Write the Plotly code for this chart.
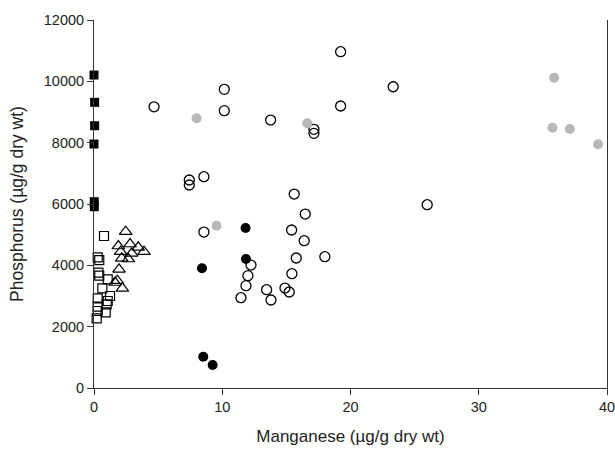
import plotly.graph_objects as go

# Filled black squares
sq_fill_x = [0.0, 0.05, 0.05, 0.0, 0.02, 0.02]
sq_fill_y = [10206, 9315, 8553, 7956, 6074, 5911]

# Open squares
sq_open_x = [0.78, 0.29, 0.41, 0.34, 0.41, 1.07, 0.65, 1.25, 0.29, 1.07, 0.99, 0.29, 0.91, 0.29, 0.21]
sq_open_y = [4956, 4261, 4173, 3760, 3662, 3545, 3250, 3000, 2925, 2837, 2729, 2651, 2468, 2511, 2273]

# Open triangles
tri_x = [2.47, 1.90, 2.81, 3.45, 3.90, 2.08, 2.94, 2.16, 2.68, 1.95, 1.82, 1.64, 2.21]
tri_y = [5096, 4630, 4695, 4588, 4444, 4444, 4392, 4229, 4206, 3870, 3499, 3440, 3250]

# Open circles
circ_open_x = [4.68, 10.16, 10.16, 19.23, 19.23, 13.77, 17.15, 17.15, 23.33, 8.57,
               7.43, 7.43, 15.61, 16.47, 25.98, 8.57, 15.41, 16.39, 12.24, 15.77,
               18.0, 12.0, 15.43, 11.85, 13.46, 14.89, 15.22, 11.46, 13.8]
circ_open_y = [9170, 9740, 9043, 10966, 9195, 8738, 8435, 8304, 9824, 6890,
               6782, 6619, 6325, 5673, 5977, 5086, 5152, 4803, 4010, 4239,
               4281, 3662, 3727, 3336, 3205, 3260, 3130, 2944, 2869]

# Grey filled circles
circ_grey_x = [8.0, 16.63, 9.56, 35.88, 35.75, 37.1, 39.3]
circ_grey_y = [8793, 8630, 5292, 10117, 8487, 8445, 7946]

# Black filled circles
circ_black_x = [11.82, 8.42, 11.85, 8.52, 9.25]
circ_black_y = [5217, 3903, 4206, 1021, 750]

x_ticks = [0, 10, 20, 30, 40]
x_labels = ["0", "10", "20", "30", "40"]
y_ticks = [0, 2000, 4000, 6000, 8000, 10000, 12000]
y_labels = ["0", "2000", "4000", "6000", "8000", "10000", "12000"]

fig = go.Figure()

def add(x, y, symbol, size, color, line_color, lw):
    fig.add_trace(go.Scatter(
        x=x, y=y, mode="markers", cliponaxis=False, showlegend=False,
        marker=dict(symbol=symbol, size=size, color=color,
                    line=dict(color=line_color, width=lw))))

add(sq_open_x, sq_open_y, "square-open", 9, "black", "black", 1.2)
add(tri_x, tri_y, "triangle-up-open", 11, "black", "black", 1.2)
add(circ_open_x, circ_open_y, "circle-open", 10, "black", "black", 1.3)
add(circ_grey_x, circ_grey_y, "circle", 10, "#b8b8b8", "#b8b8b8", 0)
add(circ_black_x, circ_black_y, "circle", 10, "black", "black", 0)
add(sq_fill_x, sq_fill_y, "square", 9, "black", "black", 0)

font = "Liberation Sans, Arial, sans-serif"
fig.update_layout(
    width=615, height=453,
    margin=dict(l=94, r=8, t=20, b=65),
    paper_bgcolor="white", plot_bgcolor="white",
    font=dict(family=font, size=14.5, color="#222"),
    xaxis=dict(range=[0, 40], tickvals=x_ticks, ticktext=x_labels, showgrid=False,
               zeroline=False, automargin=False, ticklabeloverflow="allow",
               showline=True, linecolor="#333", linewidth=1, ticks="outside",
               ticklen=6, tickcolor="#333", mirror=False,
               title=dict(text="Manganese (µg/g dry wt)", font=dict(size=17))),
    yaxis=dict(range=[0, 12000], tickvals=y_ticks, ticktext=y_labels, showgrid=False,
               zeroline=False, automargin=False, ticklabeloverflow="allow",
               showline=True, linecolor="#333", linewidth=1, ticks="outside",
               ticklen=6, tickcolor="#333", mirror=True,
               title=dict(text="Phosphorus (µg/g dry wt)", font=dict(size=17.5))),
)

fig.write_html(
    "out.html",
    config={"displayModeBar": False},
    post_script="document.body.style.margin='0';document.body.style.overflow='hidden';",
)
